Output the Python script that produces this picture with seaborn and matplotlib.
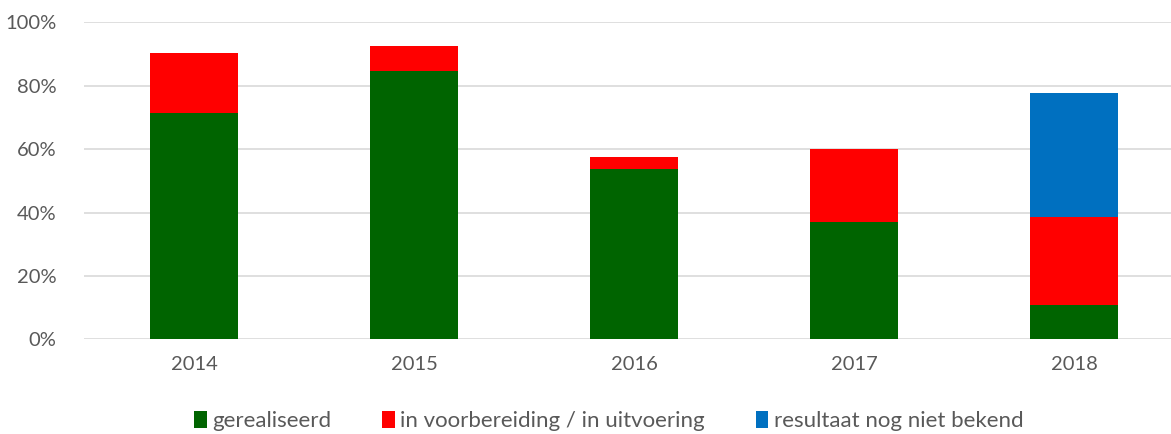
import pandas as pd
import matplotlib
matplotlib.use("Agg")
import matplotlib.pyplot as plt
import seaborn as sns
from matplotlib.patches import Patch
from matplotlib.ticker import PercentFormatter

# data (fractions)
years = ["2014", "2015", "2016", "2017", "2018"]
gerealiseerd = [0.713, 0.846, 0.537, 0.370, 0.107]
in_voorbereiding = [0.191, 0.079, 0.039, 0.229, 0.279]
onbekend = [0.0, 0.0, 0.0, 0.0, 0.391]

labels = ["gerealiseerd", "in voorbereiding / in uitvoering", "resultaat nog niet bekend"]
colors = ["#006400", "#FF0000", "#0070C0"]

df = pd.DataFrame({"year": years, "g": gerealiseerd, "v": in_voorbereiding, "o": onbekend})
df["bottom_v"] = df["g"]
df["bottom_o"] = df["g"] + df["v"]

sns.set_style("white")
plt.rcParams["font.family"] = ["Lato", "DejaVu Sans"]

fig = plt.figure(figsize=(11.71, 4.34), dpi=100)
ax = fig.add_axes([0.0717, 0.218, 0.9283, 0.7306])

sns.barplot(data=df, x="year", y="g", color=colors[0], width=0.4, ax=ax, saturation=1, linewidth=0)
sns.barplot(data=df, x="year", y="v", bottom=df["bottom_v"], color=colors[1], width=0.4, ax=ax,
            saturation=1, linewidth=0)
sns.barplot(data=df, x="year", y="o", bottom=df["bottom_o"], color=colors[2], width=0.4, ax=ax,
            saturation=1, linewidth=0)

ax.set_ylim(0, 1.0)
ax.set_xlim(-0.5, 4.44)
ax.set_yticks([0, 0.2, 0.4, 0.6, 0.8, 1.0])
ax.yaxis.set_major_formatter(PercentFormatter(1.0, decimals=0))
ax.grid(axis="y", color="#d9d9d9", linewidth=1.2)
ax.set_axisbelow(True)
for s in ax.spines.values():
    s.set_visible(False)
ax.set_xlabel("")
ax.set_ylabel("")
ax.tick_params(axis="both", length=0, labelsize=14.5, colors="#595959", pad=12)
ax.tick_params(axis="y", pad=20)

handles = [Patch(facecolor=c, edgecolor="none") for c in colors]
fig.legend(handles, labels, loc="center", bbox_to_anchor=(0.52, 0.03), ncol=3, frameon=False,
           fontsize=16, handlelength=0.55, handleheight=0.8, handletextpad=0.25, columnspacing=2.3,
           labelcolor="#595959", borderpad=0)

fig.savefig("out.png", dpi=100)
